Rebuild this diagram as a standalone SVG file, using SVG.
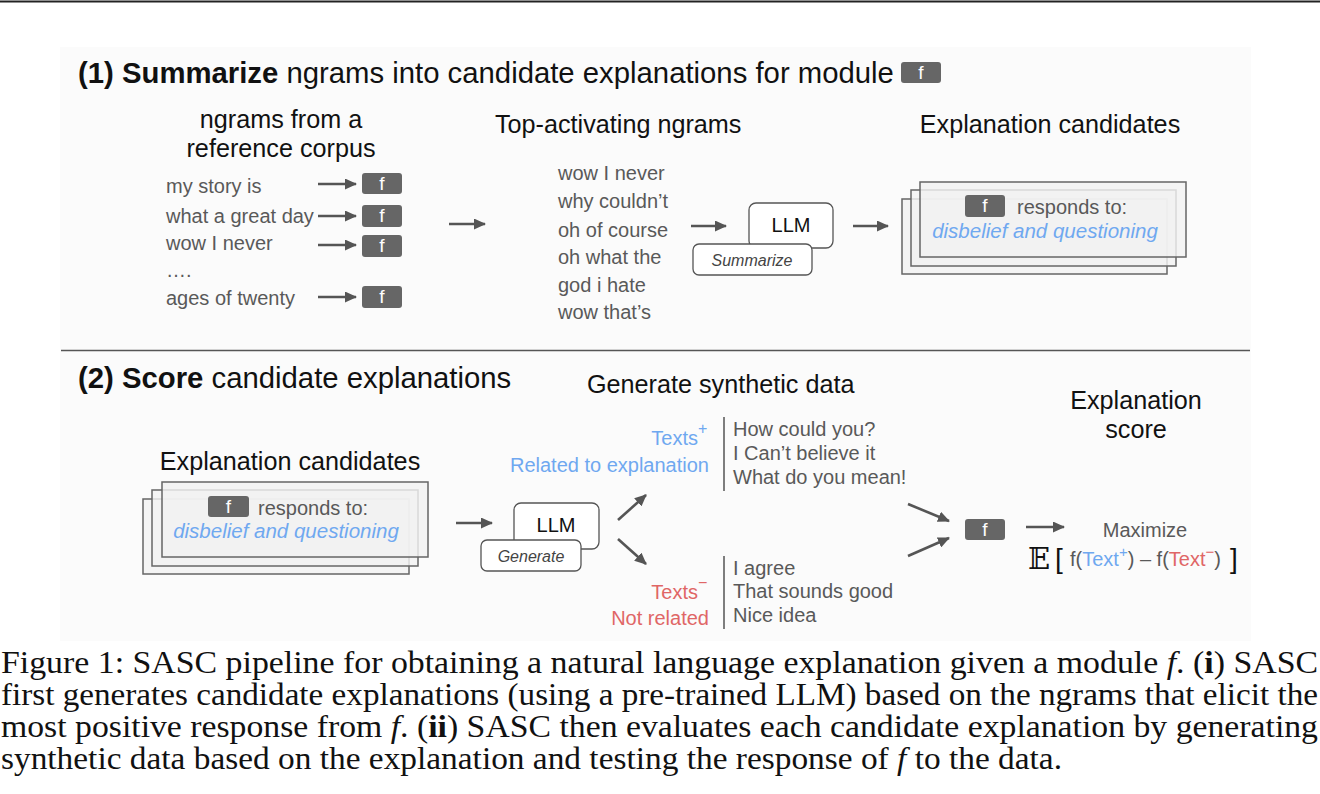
<svg xmlns="http://www.w3.org/2000/svg" width="1320" height="794" viewBox="0 0 1320 794">
<defs>
<style>
.sans{font-family:"Liberation Sans",Arial,sans-serif}
.h1{font-family:"Liberation Sans",Arial,sans-serif;font-size:29.3px;fill:#111}
.h2{font-family:"Liberation Sans",Arial,sans-serif;font-size:25.2px;fill:#111}
.item{font-family:"Liberation Sans",Arial,sans-serif;font-size:20px;fill:#595959}
.blue{fill:#6fa8f0}
.red{fill:#e06666}
.fbox{fill:#666666}
.ftxt{font-family:"Liberation Sans",Arial,sans-serif;font-size:19px;fill:#ffffff;text-anchor:middle}
.card{fill:#f2f2f2;fill-opacity:0.82;stroke:#666;stroke-width:1.5}
.llm{fill:#ffffff;stroke:#555;stroke-width:1.3}
.arr{stroke:#555;stroke-width:2.6;fill:none;marker-end:url(#ah)}
.cap{font-family:"Liberation Serif","Times New Roman",serif;font-size:30.5px;fill:#111}
</style>
<marker id="ah" markerUnits="userSpaceOnUse" markerWidth="12" markerHeight="11" refX="11" refY="5.5" orient="auto">
<path d="M0,0 L12,5.5 L0,11 z" fill="#555"/>
</marker>
</defs>
<rect x="0" y="0" width="1320" height="794" fill="#ffffff"/>
<line x1="0" y1="1.5" x2="1320" y2="1.5" stroke="#222" stroke-width="2"/>
<rect x="60" y="47" width="1191" height="594" fill="#fbfbfb"/>

<!-- Section 1 -->
<g id="title1">
<text class="h1" x="78" y="83"><tspan font-weight="bold">(1) Summarize</tspan> ngrams into candidate explanations for module</text>
<rect class="fbox" x="901" y="62" width="40" height="21" rx="3"/>
<text class="ftxt" x="921" y="79">f</text>
</g>
<g id="corpus">
<text class="h2" x="281" y="128" text-anchor="middle">ngrams from a</text>
<text class="h2" x="281" y="157" text-anchor="middle">reference corpus</text>
<text class="item" x="166" y="193">my story is</text>
<text class="item" x="166" y="223">what a great day</text>
<text class="item" x="166" y="250">wow I never</text>
<text class="item" x="166" y="277">….</text>
<text class="item" x="166" y="305">ages of twenty</text>
</g>
<g id="f1"><rect class="fbox" x="362" y="173" width="40" height="21" rx="3"/><text class="ftxt" x="382" y="190">f</text></g>
<g id="f2"><rect class="fbox" x="362" y="205" width="40" height="22" rx="3"/><text class="ftxt" x="382" y="222">f</text></g>
<g id="f3"><rect class="fbox" x="362" y="235" width="40" height="22" rx="3"/><text class="ftxt" x="382" y="252">f</text></g>
<g id="f4"><rect class="fbox" x="362" y="286" width="40" height="22" rx="3"/><text class="ftxt" x="382" y="303">f</text></g>

<g id="top">
<text class="h2" x="495" y="133">Top-activating ngrams</text>
<text class="item" x="558" y="180">wow I never</text>
<text class="item" x="558" y="208">why couldn’t</text>
<text class="item" x="558" y="237">oh of course</text>
<text class="item" x="558" y="264">oh what the</text>
<text class="item" x="558" y="292">god i hate</text>
<text class="item" x="558" y="319">wow that’s</text>
</g>
<g id="llm1">
<rect class="llm" x="749" y="203" width="84" height="45" rx="7"/>
<text class="sans" x="791" y="232" font-size="20" text-anchor="middle" fill="#111">LLM</text>
<rect class="llm" x="693" y="244" width="119" height="31" rx="6"/>
<text class="sans" x="752" y="266" font-size="16" font-style="italic" text-anchor="middle" fill="#444">Summarize</text>
</g>
<g id="cands1">
<text class="h2" x="1050" y="133" text-anchor="middle">Explanation candidates</text>
<rect class="card" x="902" y="199" width="265" height="75"/>
<rect class="card" x="911" y="190" width="265" height="76"/>
<rect class="card" x="920" y="182" width="266" height="75"/>
<rect class="fbox" x="965" y="195" width="40" height="22" rx="3"/>
<text class="ftxt" x="985" y="212">f</text>
<text class="item" x="1017" y="214">responds to:</text>
<text class="sans blue" x="1045" y="238" font-size="20.5" font-style="italic" text-anchor="middle">disbelief and questioning</text>
</g>

<line x1="61" y1="350.5" x2="1250" y2="350.5" stroke="#555" stroke-width="1.3"/>

<!-- Section 2 -->
<g id="title2">
<text class="h1" x="78" y="388"><tspan font-weight="bold">(2) Score</tspan> candidate explanations</text>
</g>
<g id="cands2">
<text class="h2" x="290" y="470" text-anchor="middle">Explanation candidates</text>
<rect class="card" x="143" y="499" width="266" height="75"/>
<rect class="card" x="152" y="490" width="266" height="76"/>
<rect class="card" x="162" y="482" width="266" height="75"/>
<rect class="fbox" x="208" y="496" width="41" height="21" rx="3"/>
<text class="ftxt" x="228.5" y="513">f</text>
<text class="item" x="258" y="515">responds to:</text>
<text class="sans blue" x="286" y="538" font-size="20.5" font-style="italic" text-anchor="middle">disbelief and questioning</text>
</g>
<g id="llm2">
<rect class="llm" x="514" y="503" width="85" height="46" rx="7"/>
<text class="sans" x="556" y="532" font-size="20" text-anchor="middle" fill="#111">LLM</text>
<rect class="llm" x="481" y="540" width="100" height="31" rx="6"/>
<text class="sans" x="531" y="562" font-size="16" font-style="italic" text-anchor="middle" fill="#444">Generate</text>
</g>
<g id="synth">
<text class="h2" x="587" y="393">Generate synthetic data</text>
<text class="sans blue" x="698" y="445" font-size="20" text-anchor="end">Texts</text>
<text class="sans blue" x="698" y="434" font-size="16">+</text>
<text class="sans blue" x="709" y="472" font-size="20" text-anchor="end">Related to explanation</text>
<line x1="724" y1="417" x2="724" y2="491" stroke="#555" stroke-width="1.5"/>
<text class="item" x="733" y="436">How could you?</text>
<text class="item" x="733" y="460">I Can’t believe it</text>
<text class="item" x="733" y="484">What do you mean!</text>
<text class="sans red" x="698" y="599" font-size="20" text-anchor="end">Texts</text>
<text class="sans red" x="698" y="588" font-size="16">−</text>
<text class="sans red" x="709" y="625" font-size="20" text-anchor="end">Not related</text>
<line x1="724" y1="556" x2="724" y2="629" stroke="#555" stroke-width="1.5"/>
<text class="item" x="733" y="575">I agree</text>
<text class="item" x="733" y="598">That sounds good</text>
<text class="item" x="733" y="622">Nice idea</text>
</g>
<g id="f5"><rect class="fbox" x="965" y="519" width="40" height="21" rx="3"/><text class="ftxt" x="985" y="536">f</text></g>
<g id="score">
<text class="h2" x="1136" y="409" text-anchor="middle">Explanation</text>
<text class="h2" x="1136" y="438" text-anchor="middle">score</text>
<text class="item" x="1145" y="537" text-anchor="middle">Maximize</text>
<text x="1028" y="569" font-family="DejaVu Serif, serif" font-size="29" fill="#111">𝔼</text>
<text x="1055" y="568" font-family="Liberation Sans, Arial, sans-serif" font-size="28" fill="#111">[</text>
<text class="sans" x="1070" y="566" font-size="20" fill="#595959">f(<tspan class="blue">Text</tspan><tspan class="blue" font-size="15" dy="-9">+</tspan><tspan dy="9">) – f(</tspan><tspan class="red">Text</tspan><tspan class="red" font-size="15" dy="-9">−</tspan><tspan dy="9">)</tspan></text>
<text x="1230" y="568" font-family="Liberation Sans, Arial, sans-serif" font-size="28" fill="#111">]</text>
</g>

<g id="connectors">
<line class="arr" x1="318" y1="184" x2="356" y2="184"/>
<line class="arr" x1="318" y1="216" x2="356" y2="216"/>
<line class="arr" x1="318" y1="245" x2="356" y2="245"/>
<line class="arr" x1="318" y1="297" x2="356" y2="297"/>
<line class="arr" x1="449" y1="224" x2="485" y2="224"/>
<line class="arr" x1="691" y1="226" x2="726" y2="226"/>
<line class="arr" x1="853" y1="226" x2="888" y2="226"/>
<line class="arr" x1="456" y1="523" x2="492" y2="523"/>
<line class="arr" x1="618" y1="520" x2="646" y2="495"/>
<line class="arr" x1="618" y1="539" x2="646" y2="564"/>
<line class="arr" x1="908" y1="504" x2="949" y2="521"/>
<line class="arr" x1="908" y1="556" x2="949" y2="538"/>
<line class="arr" x1="1026" y1="527" x2="1064" y2="527"/>
</g>

<g id="caption">
<text class="cap" x="1" y="673" textLength="1317" lengthAdjust="spacingAndGlyphs">Figure 1: SASC pipeline for obtaining a natural language explanation given a module <tspan font-style="italic">f</tspan>. (<tspan font-weight="bold">i</tspan>) SASC</text>
<text class="cap" x="1" y="705" textLength="1317" lengthAdjust="spacingAndGlyphs">first generates candidate explanations (using a pre-trained LLM) based on the ngrams that elicit the</text>
<text class="cap" x="1" y="737" textLength="1317" lengthAdjust="spacingAndGlyphs">most positive response from <tspan font-style="italic">f</tspan>. (<tspan font-weight="bold">ii</tspan>) SASC then evaluates each candidate explanation by generating</text>
<text class="cap" x="1" y="769" textLength="1061" lengthAdjust="spacingAndGlyphs">synthetic data based on the explanation and testing the response of <tspan font-style="italic">f</tspan> to the data.</text>
</g>
</svg>
